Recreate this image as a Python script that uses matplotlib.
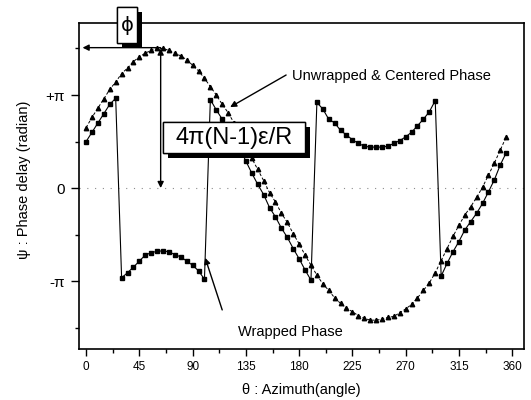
import numpy as np
import matplotlib
matplotlib.use("Agg")
import matplotlib.pyplot as plt
from matplotlib import patheffects
from matplotlib.patches import Rectangle

plt.rcParams['font.family'] = ['Liberation Sans', 'DejaVu Sans']

# azimuth in degrees, phase in units of pi
theta = np.arange(0, 360, 5)
unwrapped = [0.65, 0.76, 0.86, 0.96, 1.06, 1.14, 1.23, 1.29, 1.36, 1.41,
             1.45, 1.48, 1.50, 1.50, 1.48, 1.45, 1.42, 1.38, 1.32, 1.26,
             1.18, 1.09, 1.00, 0.90, 0.81, 0.70, 0.58, 0.45, 0.32, 0.20,
             0.08, -0.05, -0.15, -0.27, -0.37, -0.49, -0.60, -0.72, -0.83, -0.935,
             -1.03, -1.10, -1.18, -1.24, -1.29, -1.33, -1.37, -1.40, -1.42, -1.42,
             -1.41, -1.39, -1.38, -1.34, -1.30, -1.25, -1.18, -1.10, -1.02, -0.91,
             -0.78, -0.65, -0.52, -0.40, -0.29, -0.20, -0.10, 0.01, 0.14, 0.27,
             0.41, 0.55]
wrapped = [0.50, 0.60, 0.70, 0.80, 0.90, 0.965, -0.965, -0.91, -0.85, -0.785,
           -0.72, -0.695, -0.68, -0.675, -0.685, -0.715, -0.74, -0.785, -0.83, -0.89,
           -0.98, 0.95, 0.84, 0.74, 0.65, 0.54, 0.42, 0.29, 0.16, 0.04,
           -0.07, -0.21, -0.31, -0.43, -0.53, -0.65, -0.76, -0.88, -0.99, 0.92,
           0.85, 0.74, 0.70, 0.62, 0.57, 0.52, 0.48, 0.45, 0.44, 0.44,
           0.44, 0.45, 0.48, 0.51, 0.55, 0.60, 0.67, 0.74, 0.82, 0.94,
           -0.946, -0.81, -0.685, -0.575, -0.45, -0.36, -0.27, -0.165, -0.04, 0.09,
           0.25, 0.38]

xticks = np.arange(0, 361, 45)
yticks = [-1, 0, 1]
ylabels = ['-\u03c0', '0', '+\u03c0']

fig = plt.figure(figsize=(5.31, 4.0), dpi=100)
ax = fig.add_axes([79/531, 1 - 349/400, 445/531, 326/400])

ax.axhline(0, color='0.55', lw=0.8, ls=(0, (1, 6)), zorder=0)
ax.plot(theta, unwrapped, color='k', lw=0.7, ls=(0, (3, 2)),
        marker='^', ms=3.2, mec='k', mfc='k')
ax.plot(theta, wrapped, color='k', lw=0.8, ls='-',
        marker='s', ms=2.9, mec='k', mfc='k')

ax.set_xlim(-6, 370)
ax.set_ylim(-1.73, 1.774)
ax.set_xticks(xticks)
ax.set_xticks(xticks[:-1] + 22.5, minor=True)
ax.set_yticks(yticks, ylabels)
ax.set_yticks([-1.5, -0.5, 0.5, 1.5], minor=True)
ax.tick_params(axis='x', which='major', direction='out', length=5, width=1,
               labelsize=8.5, pad=4)
ax.tick_params(axis='y', which='major', direction='out', length=6, width=1,
               labelsize=11, pad=4)
ax.tick_params(which='minor', direction='out', length=3, width=1)
for s in ax.spines.values():
    s.set_linewidth(1.2)

ax.set_xlabel('\u03b8 : Azimuth(angle)', fontsize=10.5)
ax.xaxis.set_label_coords(0.5, -0.105)
ax.set_ylabel('\u03c8 : Phase delay (radian)', fontsize=10.5)
ax.yaxis.set_label_coords(-0.108, 0.52)

shadow = [patheffects.withSimplePatchShadow(offset=(3.5, -3.5), shadow_rgbFace='k', alpha=1.0),
          patheffects.Normal()]

# phi box
r1 = Rectangle((26.2, 1.559), 16.9, 0.387, fc='white', ec='k', lw=1,
               clip_on=False, zorder=5)
r1.set_path_effects(shadow)
ax.add_patch(r1)
ax.text(34.6, 1.75, '\u03d5', ha='center', va='center', fontsize=14,
        family=['DejaVu Sans'], zorder=6, clip_on=False)

# formula box
r2 = Rectangle((65.1, 0.376), 120.0, 0.334, fc='white', ec='k', lw=1,
               clip_on=False, zorder=5)
r2.set_path_effects(shadow)
ax.add_patch(r2)
ax.text(125.1, 0.54, '4\u03c0(N-1)\u03b5/R', ha='center', va='center',
        fontsize=17, zorder=6)

arrow = dict(arrowstyle='-|>', color='k', lw=1, mutation_scale=9, shrinkA=0, shrinkB=0)
ax.annotate('', xy=(-3, 1.509), xytext=(63, 1.509), arrowprops=arrow, zorder=4)
ax.annotate('', xy=(63, 1.50), xytext=(63, 0.0),
            arrowprops=dict(arrow, arrowstyle='<|-|>'), zorder=4)
ax.annotate('', xy=(121.7, 0.87), xytext=(169, 1.215), arrowprops=arrow)
ax.annotate('', xy=(100.6, -0.75), xytext=(115, -1.31), arrowprops=arrow)

ax.text(174, 1.20, 'Unwrapped & Centered Phase', ha='left', va='center', fontsize=10.5)
ax.text(128.5, -1.548, 'Wrapped Phase', ha='left', va='center', fontsize=10.5)

fig.savefig('out.png', dpi=100)
